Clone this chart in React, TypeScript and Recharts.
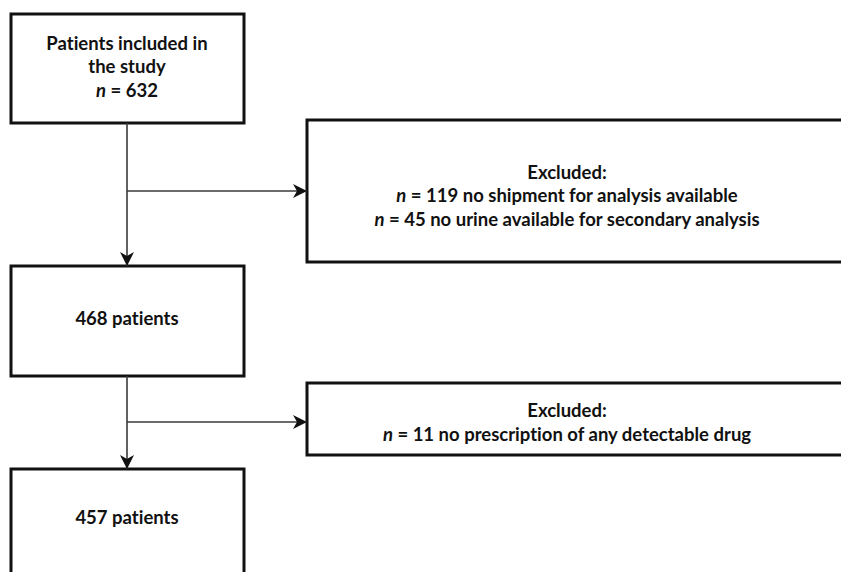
import { ScatterChart, Scatter, XAxis, YAxis, ReferenceArea, ReferenceLine } from 'recharts';

// flow counts
const includedCount = 632;
const afterFirstExclusion = 468;
const finalCount = 457;

// exclusion reasons per step
const firstExclusions = [
  { n: 119, reason: 'no shipment for analysis available' },
  { n: 45, reason: 'no urine available for secondary analysis' },
];
const secondExclusions = [{ n: 11, reason: 'no prescription of any detectable drug' }];

// diagram layout (diagram units, same size as the canvas)
const W = 841;
const H = 572;
const mainX = { x1: 11, x2: 244 };
const sideX = { x1: 307, x2: 860 };
const boxes = [
  { ...mainX, y1: 14, y2: 123 },
  { ...sideX, y1: 120, y2: 262 },
  { ...mainX, y1: 266, y2: 376 },
  { ...sideX, y1: 383, y2: 455 },
  { ...mainX, y1: 469, y2: 620 },
];
const spineX = 127;
const textCenterSide = 567;

type Seg = { t: string; i?: boolean };
type TextNode = { x: number; y: number; lines: Seg[][] };

const nLine = (n: number, rest: string): Seg[] => [{ t: 'n', i: true }, { t: ` = ${n}${rest}` }];

const textNodes: TextNode[] = [
  { x: spineX, y: 66, lines: [[{ t: 'Patients included in' }], [{ t: 'the study' }], nLine(includedCount, '')] },
  {
    x: textCenterSide,
    y: 195,
    lines: [[{ t: 'Excluded:' }], ...firstExclusions.map((e) => nLine(e.n, ` ${e.reason}`))],
  },
  { x: spineX, y: 318, lines: [[{ t: `${afterFirstExclusion} patients` }]] },
  {
    x: textCenterSide,
    y: 422,
    lines: [[{ t: 'Excluded:' }], ...secondExclusions.map((e) => nLine(e.n, ` ${e.reason}`))],
  },
  { x: spineX, y: 517, lines: [[{ t: `${finalCount} patients` }]] },
];

const connectors = [
  { from: { x: spineX, y: 123 }, to: { x: spineX, y: 266 } },
  { from: { x: spineX, y: 191 }, to: { x: 307, y: 191 } },
  { from: { x: spineX, y: 376 }, to: { x: spineX, y: 469 } },
  { from: { x: spineX, y: 422 }, to: { x: 307, y: 422 } },
];

const arrowHeads = connectors.map((c) => ({
  x: c.to.x,
  y: c.to.y,
  dir: c.to.x > c.from.x ? 'right' : 'down',
}));

const FONT = 'Lato, "Open Sans", sans-serif';
const LINE_H = 23.5;

const TextShape = (props: any) => {
  const { cx, cy, payload } = props;
  const lines: Seg[][] = payload.lines;
  const y0 = cy - ((lines.length - 1) * LINE_H) / 2;
  return (
    <text
      x={cx}
      y={y0}
      textAnchor="middle"
      dominantBaseline="central"
      fontFamily={FONT}
      fontWeight={700}
      fontSize={18.5}
      fill="#111"
      style={{ fontVariantLigatures: 'none' }}
    >
      {lines.map((segs, li) => (
        <tspan key={li} x={cx} y={y0 + li * LINE_H}>
          {segs.map((s, si) => (
            <tspan key={si} fontStyle={s.i ? 'italic' : 'normal'}>
              {s.t}
            </tspan>
          ))}
        </tspan>
      ))}
    </text>
  );
};

const ArrowShape = (props: any) => {
  const { cx, cy, payload } = props;
  const len = 14;
  const half = 7;
  const notch = 4;
  const d =
    payload.dir === 'right'
      ? `M${cx},${cy} L${cx - len},${cy - half} L${cx - len + notch},${cy} L${cx - len},${cy + half} Z`
      : `M${cx},${cy} L${cx - half},${cy - len} L${cx},${cy - len + notch} L${cx + half},${cy - len} Z`;
  return <path d={d} fill="#111" stroke="none" />;
};

export default function App() {
  return (
    <div style={{ position: 'absolute', left: 0, top: 0, background: '#fff' }}>
      <ScatterChart width={W} height={H} margin={{ top: 0, right: 0, bottom: 0, left: 0 }}>
        <XAxis type="number" dataKey="x" domain={[0, W]} hide allowDataOverflow />
        <YAxis type="number" dataKey="y" domain={[0, H]} reversed hide allowDataOverflow width={0} />
        {connectors.map((c, i) => (
          <ReferenceLine
            key={`c${i}`}
            segment={[c.from, c.to]}
            stroke="#3a3a3a"
            strokeWidth={1.6}
            ifOverflow="visible"
          />
        ))}
        {boxes.map((b, i) => (
          <ReferenceArea
            key={`b${i}`}
            x1={b.x1}
            x2={b.x2}
            y1={b.y1}
            y2={b.y2}
            fill="#fff"
            fillOpacity={1}
            stroke="#111"
            strokeWidth={3}
            ifOverflow="visible"
          />
        ))}
        <Scatter data={arrowHeads} shape={ArrowShape} isAnimationActive={false} />
        <Scatter data={textNodes} shape={TextShape} isAnimationActive={false} />
      </ScatterChart>
    </div>
  );
}
